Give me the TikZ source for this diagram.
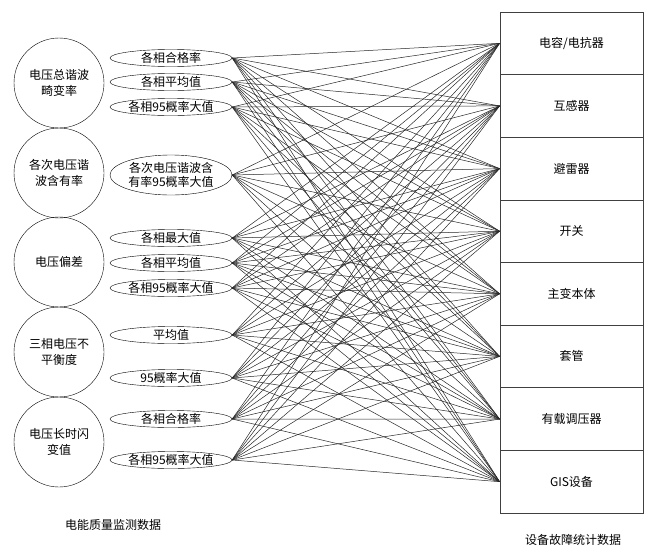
\documentclass[tikz,border=0pt]{standalone}
\usepackage{fontspec}
\setmainfont{Noto Sans CJK SC}
\usetikzlibrary{shapes.geometric}

\tikzset{
  zhibiao/.style={draw, circle, minimum size=90pt, inner sep=0pt,
    align=center, font=\fontsize{12}{16}\selectfont},
  xiang/.style={draw, ellipse, minimum width=122pt, minimum height=17pt,
    inner sep=0pt, align=center, font=\fontsize{12}{14}\selectfont},
  shebei/.style={draw=black!75, line width=0.8pt, rectangle,
    minimum width=143pt, minimum height=62.6pt,
    font=\fontsize{12}{14}\selectfont},
  lianxian/.style={draw=black!85, line width=0.5pt}
}

\begin{document}
\begin{tikzpicture}[x=1pt, y=-1pt]
\useasboundingbox (0,0) rectangle (661,552);
% indicator circles
\node [zhibiao] (c1) at (59,83) {电压总谐波\\畸变率};
\node [zhibiao] (c2) at (59,173) {各次电压谐\\波含有率};
\node [zhibiao] (c3) at (59,262) {电压偏差};
\node [zhibiao] (c4) at (59,352) {三相电压不\\平衡度};
\node [zhibiao] (c5) at (59,442) {电压长时闪\\变值};
% statistics ellipses
\node [xiang] (e1) at (171,58) {各相合格率};
\node [xiang] (e2) at (171,82) {各相平均值};
\node [xiang] (e3) at (171,107) {各相95概率大值};
\node [xiang, minimum height=40pt] (e4) at (171,175) {各次电压谐波含\\有率95概率大值};
\node [xiang] (e5) at (171,238) {各相最大值};
\node [xiang] (e6) at (171,263) {各相平均值};
\node [xiang] (e7) at (171,288) {各相95概率大值};
\node [xiang] (e8) at (171,335) {平均值};
\node [xiang] (e9) at (171,378) {95概率大值};
\node [xiang] (e10) at (171,419) {各相合格率};
\node [xiang] (e11) at (171,460) {各相95概率大值};
% equipment boxes
\node [shebei] (b1) at (571.5,43.3) {电容/电抗器};
\node [shebei] (b2) at (571.5,105.9) {互感器};
\node [shebei] (b3) at (571.5,168.6) {避雷器};
\node [shebei] (b4) at (571.5,231.2) {开关};
\node [shebei] (b5) at (571.5,293.8) {主变本体};
\node [shebei] (b6) at (571.5,356.4) {套管};
\node [shebei] (b7) at (571.5,419.1) {有载调压器};
\node [shebei] (b8) at (571.5,481.7) {GIS设备};
% captions
\node [font=\fontsize{12}{14}\selectfont] (t1) at (113,525) {电能质量监测数据};
\node [font=\fontsize{12}{14}\selectfont] (t2) at (573,540) {设备故障统计数据};
% connections
\foreach \e in {1,...,11}
  \foreach \b in {1,...,8}
    \draw [lianxian] (e\e.east) -- (b\b.west);
\end{tikzpicture}
\end{document}
